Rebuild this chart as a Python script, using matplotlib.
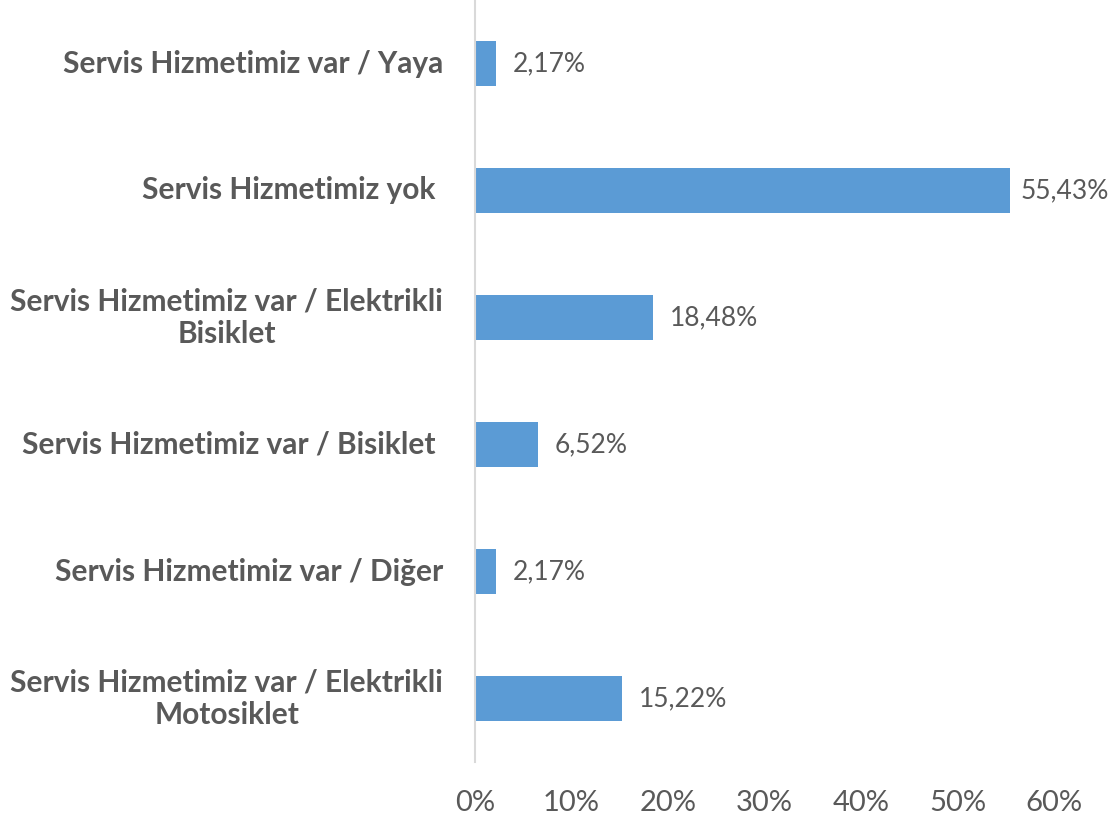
import matplotlib
matplotlib.use("Agg")
import matplotlib.pyplot as plt
from matplotlib.ticker import FuncFormatter
from matplotlib.transforms import blended_transform_factory

categories = [
    "Servis Hizmetimiz var / Yaya",
    "Servis Hizmetimiz yok ",
    "Servis Hizmetimiz var / Elektrikli\nBisiklet",
    "Servis Hizmetimiz var / Bisiklet ",
    "Servis Hizmetimiz var / Diğer",
    "Servis Hizmetimiz var / Elektrikli\nMotosiklet",
]
values = [2.17, 55.43, 18.48, 6.52, 2.17, 15.22]
xticks = [0, 10, 20, 30, 40, 50, 60]

plt.rcParams['font.family'] = ['Lato', 'DejaVu Sans']
text_color = '#595959'
bar_color = '#5B9BD5'

W, H = 1109, 821
fig = plt.figure(figsize=(W / 100, H / 100), dpi=100)
ax = fig.add_axes([475 / W, 59 / H, (1054 - 475) / W, 762 / H])

n = len(categories)
ypos = list(range(n))[::-1]
ax.barh(ypos, values, height=0.36, color=bar_color)
ax.set_ylim(-0.5, n - 0.5)
ax.set_xlim(0, 60)
ax.set_xticks(xticks)
ax.xaxis.set_major_formatter(FuncFormatter(lambda v, p: f"{int(v)}%"))
ax.set_yticks([])
ax.tick_params(axis='x', length=0, labelsize=21, labelcolor=text_color, pad=20)

trans = blended_transform_factory(fig.transFigure, ax.transData)
for y, lab in zip(ypos, categories):
    fig.text(443 / W, y, lab, transform=trans, ha='right', va='center',
             multialignment='center', fontsize=21.5, fontweight='bold',
             color=text_color, linespacing=1.2)

for s in ['top', 'right', 'bottom']:
    ax.spines[s].set_visible(False)
ax.spines['left'].set_color('#D9D9D9')
ax.spines['left'].set_linewidth(1.5)

for y, v in zip(ypos, values):
    off = 17 if v < 50 else 11
    ax.annotate(f"{v:.2f}%".replace('.', ','), (v, y), xytext=(off, 0),
                textcoords='offset pixels', va='center', ha='left',
                fontsize=19, color=text_color)

fig.savefig("out.png", dpi=100)
